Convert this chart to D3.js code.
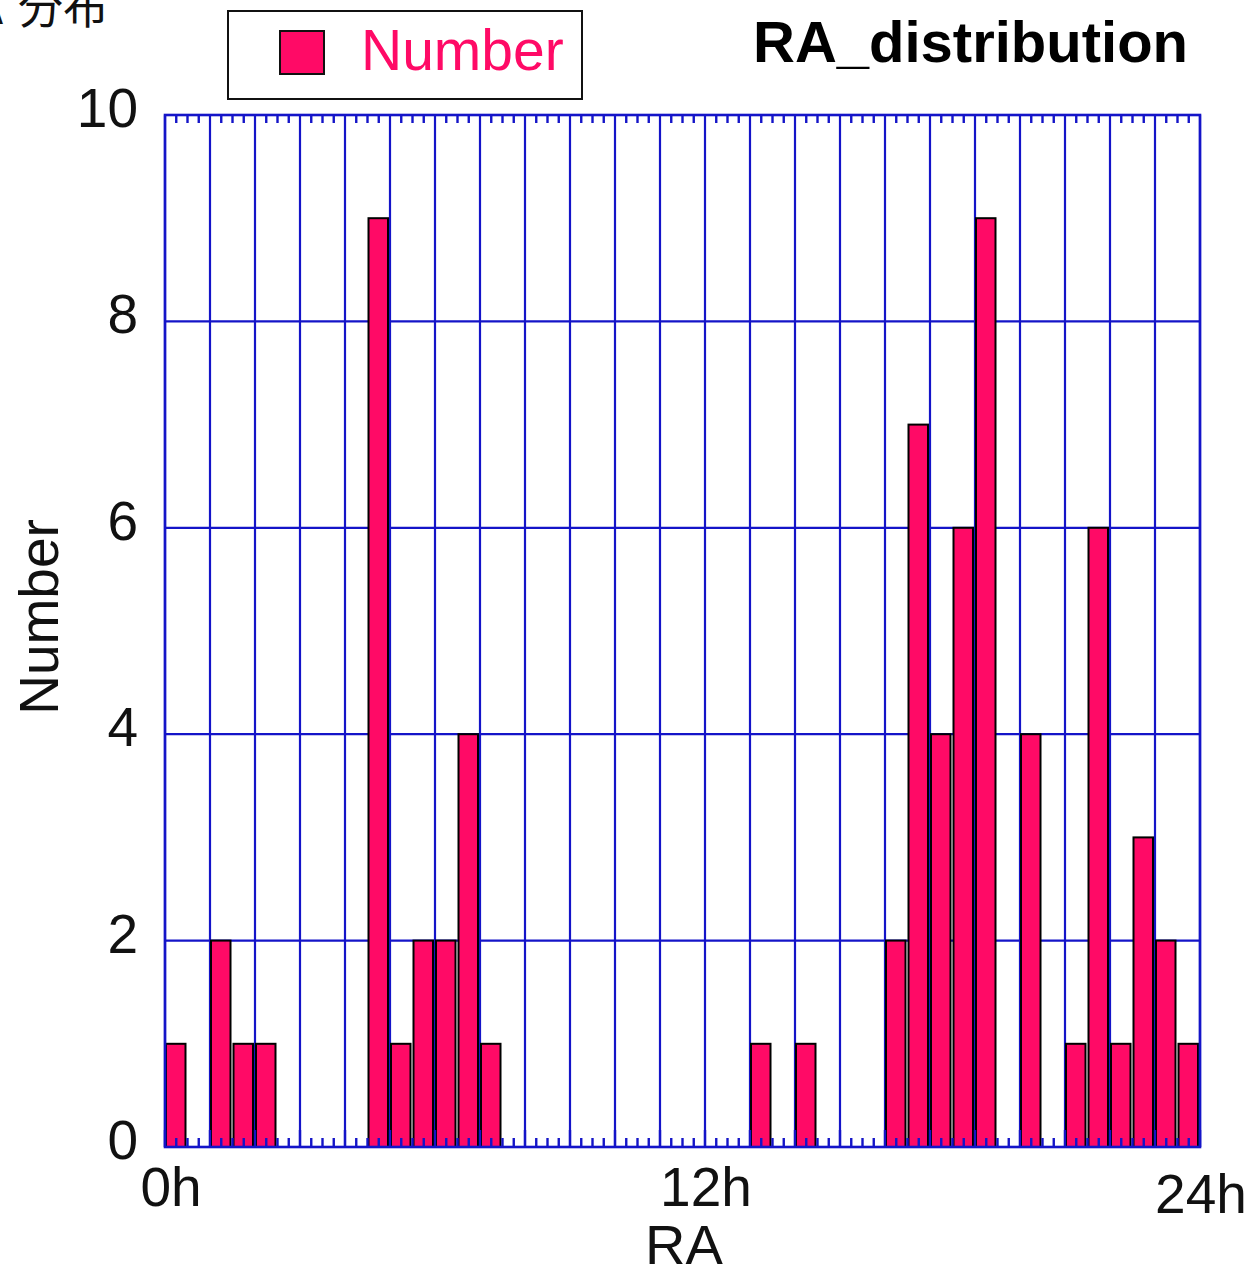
<!DOCTYPE html>
<html><head><meta charset="utf-8">
<script src="https://cdn.jsdelivr.net/npm/d3@7"></script>
<style>body{margin:0;background:#fff}svg{display:block}</style>
</head><body>
<script>
// Data: 46 half-hour bins spanning RA 0..23 (chart units)
const binStarts = d3.range(0, 23, 0.5);
const counts = [1,0,2,1,1,0,0,0,0,9,1,2,2,4,1,0,0,0,0,0,0,0,0,0,0,0,1,0,1,0,0,0,2,7,4,6,9,0,4,0,1,6,1,3,2,1];
const xTickValues = [0, 12, 23];
const xTickLabels = ["0h", "12h", "24h"];
const yTickValues = [0, 2, 4, 6, 8, 10];
const legendLabel = "Number";
const titleText = "RA_distribution";
const cornerParts = ["RA", "分布"];
const xTitle = "RA";
const yTitle = "Number";

const W = 1255, H = 1272;
const L = 165, R = 1200, T = 115, B = 1147;
const font = "'Liberation Sans', Arial, Helvetica, sans-serif";
const blue = "#1414c8", pink = "#ff0a66";

const svg = d3.select("body").append("svg").attr("width", W).attr("height", H);
const x = d3.scaleLinear().domain([0, 23]).range([L, R]);
const y = d3.scaleLinear().domain([0, 10]).range([B, T]);

// grid
svg.append("g").selectAll("line").data(d3.range(0, 24)).join("line")
  .attr("x1", d => x(d)).attr("x2", d => x(d)).attr("y1", T).attr("y2", B)
  .attr("stroke", blue).attr("stroke-width", 2.2);
svg.append("g").selectAll("line").data(yTickValues).join("line")
  .attr("x1", L).attr("x2", R).attr("y1", d => y(d)).attr("y2", d => y(d))
  .attr("stroke", blue).attr("stroke-width", 2.2);

// bars
const data = binStarts.map((s, i) => ({s, v: counts[i]})).filter(d => d.v > 0);
svg.append("g").selectAll("rect").data(data).join("rect")
  .attr("x", d => x(d.s) + 1)
  .attr("width", d => x(d.s + 0.5) - x(d.s) - 3)
  .attr("y", d => y(d.v))
  .attr("height", d => y(0) - y(d.v))
  .attr("fill", pink).attr("stroke", "#000").attr("stroke-width", 2);

// minor / major ticks top and bottom
const minor = d3.range(0, 23, 0.25).filter(v => Math.abs(v - Math.round(v)) > 0.01);
const tk = svg.append("g").attr("stroke", blue).attr("stroke-width", 2.4);
tk.selectAll(".mb").data(minor).join("line").attr("class","mb")
  .attr("x1", d => x(d)).attr("x2", d => x(d)).attr("y1", B).attr("y2", B - 9);
tk.selectAll(".mt").data(minor).join("line").attr("class","mt")
  .attr("x1", d => x(d)).attr("x2", d => x(d)).attr("y1", T).attr("y2", T + 8);
tk.selectAll(".Mb").data(d3.range(0, 24)).join("line").attr("class","Mb")
  .attr("x1", d => x(d)).attr("x2", d => x(d)).attr("y1", B).attr("y2", B - 17);
svg.append("rect").attr("x", L).attr("y", T).attr("width", R - L).attr("height", B - T)
  .attr("fill", "none").attr("stroke", blue).attr("stroke-width", 2.6);

// axis labels
svg.append("g").selectAll("text").data(yTickValues).join("text")
  .attr("x", 138).attr("y", d => y(d) + 12)
  .attr("text-anchor", "end").attr("font-family", font).attr("font-size", 55).attr("fill", "#111")
  .text(d => d);
svg.append("g").selectAll("text").data(xTickValues).join("text")
  .attr("x", (d, i) => x(d) + (i === 0 ? 6 : 1)).attr("y", (d, i) => i === 2 ? 1213 : 1206)
  .attr("text-anchor", "middle").attr("font-family", font).attr("font-size", 55).attr("fill", "#111")
  .text((d, i) => xTickLabels[i]);
svg.append("text").attr("x", 684).attr("y", 1264).attr("text-anchor", "middle")
  .attr("font-family", font).attr("font-size", 56).attr("fill", "#111").text(xTitle);
svg.append("text").attr("transform", "translate(58,617) rotate(-90)").attr("text-anchor", "middle")
  .attr("font-family", font).attr("font-size", 55).attr("fill", "#111").text(yTitle);

// title
svg.append("text").attr("x", 1188).attr("y", 62).attr("text-anchor", "end")
  .attr("font-family", font).attr("font-weight", "bold").attr("font-size", 58).attr("fill", "#000").text(titleText);

// corner text (partly outside the picture, as in the reference)
const corner = svg.append("text").attr("y", 24)
  .attr("font-family", "'Noto Sans CJK JP', 'Noto Sans CJK SC', sans-serif").attr("font-size", 45).attr("fill", "#111");
corner.append("tspan").attr("x", 3).attr("text-anchor", "end").text(cornerParts[0]);
corner.append("tspan").attr("x", 108).attr("text-anchor", "end").text(cornerParts[1]);

// legend
svg.append("rect").attr("x", 228).attr("y", 11).attr("width", 354).attr("height", 88)
  .attr("fill", "#fff").attr("stroke", "#111").attr("stroke-width", 2);
svg.append("rect").attr("x", 280).attr("y", 31).attr("width", 44).attr("height", 43)
  .attr("fill", pink).attr("stroke", "#111").attr("stroke-width", 2);
svg.append("text").attr("x", 361).attr("y", 70).attr("font-family", font).attr("font-size", 57)
  .attr("fill", pink).text(legendLabel);
</script>
</body></html>
